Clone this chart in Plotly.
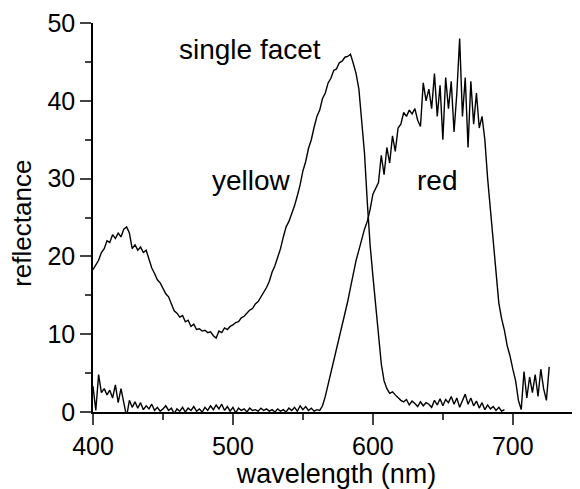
import plotly.graph_objects as go

# Reflectance spectra (2 nm sampling)
yellow_start = 400
yellow_vals = [
    18.3, 19.0, 19.5, 20.5, 21.0, 22.0, 21.8, 22.8, 22.3, 23.0,
    22.5, 23.5, 23.8, 23.0, 21.0, 21.5, 20.8, 21.2, 20.5, 20.8,
    19.5, 18.5, 17.8, 17.0, 16.6, 15.8, 15.2, 14.8, 13.8, 13.0,
    12.7, 12.2, 12.4, 11.6, 11.8, 11.0, 11.3, 10.6, 10.7, 10.4,
    10.5, 10.2, 10.3, 9.8, 9.5, 10.4, 10.2, 10.8, 10.6, 11.0,
    11.2, 11.5, 11.6, 12.1, 12.3, 12.7, 13.1, 13.3, 13.9, 14.2,
    14.8, 15.3, 16.0, 16.8, 18.0, 18.8, 19.8, 21.0, 22.5, 23.8,
    24.5, 25.4, 26.5, 27.8, 29.2, 31.0, 32.2, 33.9, 35.0, 36.6,
    38.0, 38.8, 40.3, 41.0, 42.3, 42.9, 43.9, 44.1, 44.9, 45.1,
    45.6, 45.7, 46.0, 44.8, 43.5, 41.5, 37.5, 33.3, 27.0, 21.5,
    17.5, 14.0, 10.0, 6.2, 4.0, 3.0, 2.4, 2.6, 2.2, 1.8,
    1.5, 1.3, 1.6, 0.9, 1.4, 1.1, 0.7, 1.3, 0.8, 1.2,
    1.0, 0.6, 1.5, 0.9, 1.7, 0.8, 1.6, 1.2, 2.0, 1.0,
    1.8, 0.6, 1.5, 2.3, 1.0, 1.8, 0.8, 1.4, 0.5, 1.2,
    0.3, 0.9, 0.4, 0.7, 0.2, 0.6, 0.1, 0.3,
]

red_start = 400
red_vals = [
    3.3, 0.2, 4.8, 2.5, 3.0, 2.2, 2.8, 1.8, 3.5, 1.2,
    3.0, 1.0, -0.6, 1.5, 0.6, 1.3, 0.5, 1.2, 0.3, 0.8,
    0.4, 1.0, 0.2, 0.6, 0.1, 0.4, 0.8, 0.2, 0.5, -0.2,
    0.4, 0.1, 0.6, 0.0, 0.5, 0.2, 0.7, 0.1, 0.4, 0.0,
    0.6, 0.2, 0.8, 0.3, 0.9, 0.4, 1.0, 0.2, 0.7, 0.1,
    0.6, -0.1, 0.5, 0.2, 0.4, 0.0, 0.5, 0.2, 0.3, 0.1,
    0.5, 0.2, 0.4, 0.1, 0.3, 0.0, 0.4, 0.1, 0.3, 0.0,
    0.5, 0.2, 0.6, 0.1, 0.8, 0.3, 0.7, 0.2, 0.5, 0.1,
    0.3, 0.2, 0.8, 2.0, 3.5, 5.0, 6.4, 7.8, 9.4, 11.0,
    12.6, 14.2, 16.0, 18.0, 19.5, 20.8, 22.2, 23.5, 24.5, 26.0,
    28.0, 28.8, 29.5, 33.0, 30.5, 34.0, 32.0, 35.5, 33.5, 36.5,
    37.0, 38.5, 38.0, 38.8, 38.3, 39.0, 37.5, 36.7, 42.3, 40.0,
    41.5, 39.0, 43.5, 38.0, 42.0, 35.0, 43.0, 39.0, 42.5, 36.0,
    41.0, 48.0, 38.0, 43.0, 34.0, 42.5, 37.0, 41.0, 36.5, 38.0,
    35.0, 30.0, 26.0, 21.5, 18.5, 14.0, 12.0, 10.5, 8.5, 7.2,
    5.5, 4.0, 1.5, 0.3, 5.2, 1.8, 4.5, 2.5, 4.8, 2.0,
    5.5, 3.0, 1.5, 5.8,
]
step_nm = 2

yellow_x = [yellow_start + step_nm * i for i in range(len(yellow_vals))]
red_x = [red_start + step_nm * i for i in range(len(red_vals))]

x_ticks = [400, 500, 600, 700]
y_ticks = [0, 10, 20, 30, 40, 50]

labels = [
    ("single facet", 512, 46.6),
    ("yellow", 513.5, 29.8),
    ("red", 645.5, 29.8),
]

FONT = "Liberation Sans, Arial, Helvetica, sans-serif"

fig = go.Figure()
fig.add_trace(go.Scatter(x=yellow_x, y=yellow_vals, mode="lines",
                         line=dict(color="black", width=1.4), name="yellow"))
fig.add_trace(go.Scatter(x=red_x, y=red_vals, mode="lines",
                         line=dict(color="black", width=1.4), name="red"))

for text, lx, ly in labels:
    fig.add_annotation(x=lx, y=ly, xref="x", yref="y", text=text,
                       showarrow=False, font=dict(size=28, color="black", family=FONT))

# y-axis title placed as a rotated annotation so it can sit closer to the edge
fig.add_annotation(x=-0.146, y=0.486, xref="paper", yref="paper", text="reflectance",
                   textangle=-90, showarrow=False, xanchor="center", yanchor="middle",
                   font=dict(size=26, color="black", family=FONT))

# The page body adds an 8px offset, so the figure is 8px smaller in each direction
fig.update_layout(
    width=572, height=481,
    margin=dict(l=85, r=0, t=15, b=77, autoexpand=False),
    paper_bgcolor="white", plot_bgcolor="white",
    showlegend=False,
    font=dict(family=FONT, color="black", size=25),
)
fig.update_xaxes(
    range=[400, 748], tickvals=x_ticks, ticks="outside", ticklen=11, tickwidth=1.5,
    showline=True, linecolor="black", linewidth=1.5, showgrid=False, zeroline=False,
    tickfont=dict(size=25),
    minor=dict(dtick=50, tick0=400, ticks="outside", ticklen=6, tickwidth=1.5, showgrid=False),
    title=dict(text="wavelength (nm)", font=dict(size=27), standoff=6),
)
fig.update_yaxes(
    range=[0, 50], tickvals=y_ticks, ticks="outside", ticklen=11, tickwidth=1.5,
    showline=True, linecolor="black", linewidth=1.5, showgrid=False, zeroline=False,
    tickfont=dict(size=25),
    minor=dict(dtick=5, tick0=0, ticks="outside", ticklen=6, tickwidth=1.5, showgrid=False),
)

fig.write_html("out.html")
